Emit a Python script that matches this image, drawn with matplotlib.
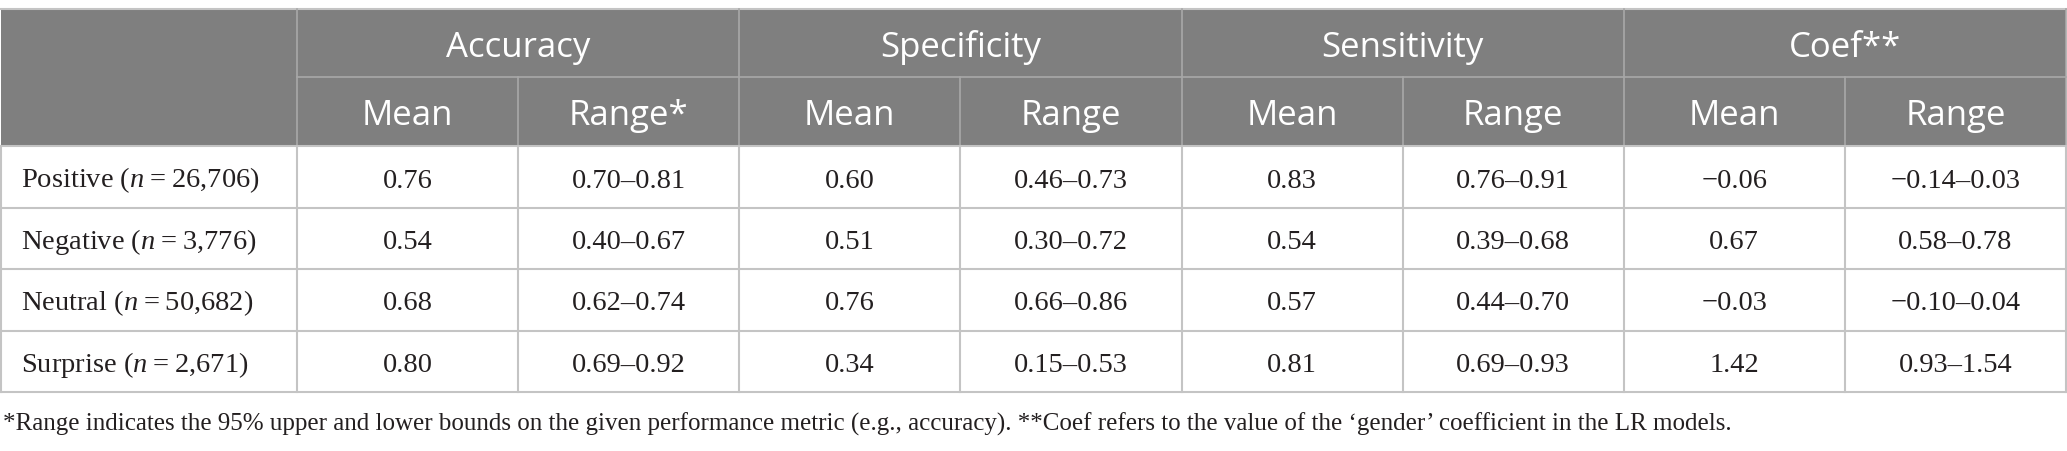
import matplotlib
matplotlib.use("Agg")
import matplotlib.pyplot as plt
from matplotlib.patches import Rectangle

# ---- data ----
groups = ["Accuracy", "Specificity", "Sensitivity", "Coef**"]
subheads = ["Mean", "Range*", "Mean", "Range", "Mean", "Range", "Mean", "Range"]
row_names = ["Positive", "Negative", "Neutral", "Surprise"]
row_n = ["26,706", "3,776", "50,682", "2,671"]
accuracy_mean = ["0.76", "0.54", "0.68", "0.80"]
accuracy_range = ["0.70\u20130.81", "0.40\u20130.67", "0.62\u20130.74", "0.69\u20130.92"]
specificity_mean = ["0.60", "0.51", "0.76", "0.34"]
specificity_range = ["0.46\u20130.73", "0.30\u20130.72", "0.66\u20130.86", "0.15\u20130.53"]
sensitivity_mean = ["0.83", "0.54", "0.57", "0.81"]
sensitivity_range = ["0.76\u20130.91", "0.39\u20130.68", "0.44\u20130.70", "0.69\u20130.93"]
coef_mean = ["\u22120.06", "0.67", "\u22120.03", "1.42"]
coef_range = ["\u22120.14\u20130.03", "0.58\u20130.78", "\u22120.10\u20130.04", "0.93\u20131.54"]
footnote = ("*Range indicates the 95% upper and lower bounds on the given performance metric "
            "(e.g., accuracy). **Coef refers to the value of the \u2018gender\u2019 coefficient in the LR models.")

columns = [accuracy_mean, accuracy_range, specificity_mean, specificity_range,
           sensitivity_mean, sensitivity_range, coef_mean, coef_range]

# ---- style / layout ----
W, H = 2067, 451
plt.rcParams['mathtext.fontset'] = 'custom'
plt.rcParams['mathtext.rm'] = 'Liberation Serif'
plt.rcParams['mathtext.it'] = 'Liberation Serif:italic'

HEAD_BG = "#7f7f7f"
HEAD_LINE = "#a8a8a8"
BODY_LINE = "#c4c4c4"
TXT = "#231f20"
SANS = "Open Sans"
SERIF = "Liberation Serif"

fig = plt.figure(figsize=(W / 100, H / 100), dpi=100)
ax = fig.add_axes([0, 0, 1, 1])
ax.set_xlim(0, W)
ax.set_ylim(H, 0)
ax.axis("off")

x0, x1 = 0.5, 2066
first_w = 297
col_w = (x1 - first_w) / 8
col_edges = [first_w + i * col_w for i in range(9)]
y_top, y_mid, y_head = 9, 77, 146
row_h = (392 - y_head) / 4
row_edges = [y_head + i * row_h for i in range(5)]

# header background
ax.add_patch(Rectangle((x0, y_top), x1 - x0, y_head - y_top, facecolor=HEAD_BG, edgecolor="none"))
# top border
ax.plot([x0, x1], [y_top, y_top], color=BODY_LINE, lw=1.5)
# header lines
ax.plot([first_w, x1], [y_mid, y_mid], color=HEAD_LINE, lw=1.2)
for i in range(0, 9, 2):
    ax.plot([col_edges[i], col_edges[i]], [y_top, y_head], color=HEAD_LINE, lw=1.2)
for i in range(1, 9, 2):
    ax.plot([col_edges[i], col_edges[i]], [y_mid, y_head], color=HEAD_LINE, lw=1.2)

# body lines
for y in row_edges:
    ax.plot([x0, x1], [y, y], color=BODY_LINE, lw=1.5)
for x in [x0] + col_edges:
    ax.plot([x, x], [y_head, row_edges[-1]], color=BODY_LINE, lw=1.5)

# header text
for g, name in enumerate(groups):
    cx = (col_edges[2 * g] + col_edges[2 * g + 2]) / 2
    ax.text(cx, y_top + 48, name, ha="center", va="baseline", color="white",
            fontsize=25, family=SANS)
for i, name in enumerate(subheads):
    cx = (col_edges[i] + col_edges[i + 1]) / 2
    ax.text(cx, y_mid + 48, name, ha="center", va="baseline", color="white",
            fontsize=25, family=SANS)

# body text
for r in range(4):
    base = row_edges[r] + 41.5
    ax.text(21, base, f"{row_names[r]} ($n$\u2009=\u2009{row_n[r]})", ha="left", va="baseline",
            color=TXT, fontsize=20.5, family=SERIF)
    for c, col in enumerate(columns):
        cx = (col_edges[c] + col_edges[c + 1]) / 2
        ax.text(cx, base, col[r], ha="center", va="baseline", color=TXT,
                fontsize=20.5, family=SERIF)

# footnote
ax.text(3, 431, footnote, ha="left", va="baseline", color=TXT, fontsize=18, family=SERIF)

fig.savefig("out.png", dpi=100)
